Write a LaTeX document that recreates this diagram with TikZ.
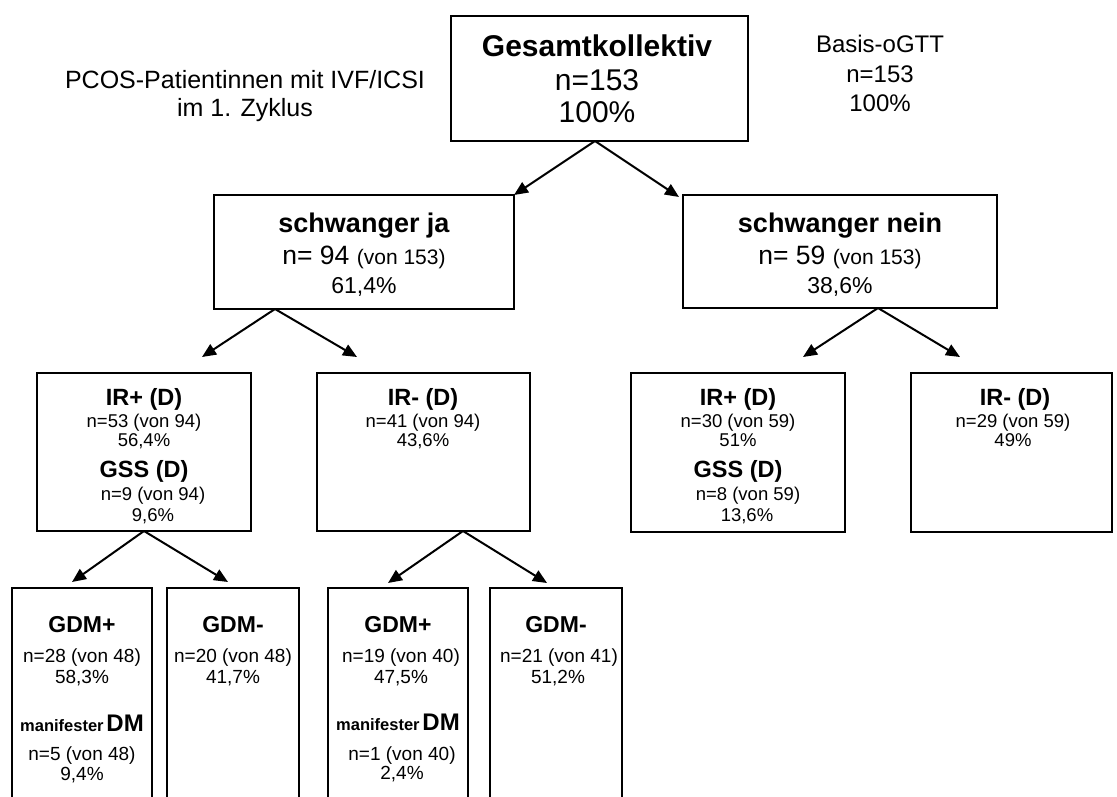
\documentclass[tikz,border=0pt]{standalone}
\usepackage{fontspec}
\setmainfont{Liberation Sans}
\usetikzlibrary{arrows.meta}
\tikzset{
  kasten/.style={draw, line width=2.2pt, anchor=north west,
    inner sep=0pt, outer sep=0pt},
  zeile/.style={anchor=base, inner sep=0pt, outer sep=0pt},
  pfeil/.style={line width=2pt, -{Triangle[length=14pt,width=12pt]}}
}
\newcommand{\gr}[1]{\fontsize{#1}{#1}\selectfont}

\begin{document}
\begin{tikzpicture}[x=1pt,y=-1pt]
\useasboundingbox (0,0) rectangle (1117,797);
\clip (0,0) rectangle (1117,797);

%%%%%%%%% Kopfzeile
\node[zeile, font=\gr{25}] (pcos1) at (245,89) {PCOS-Patientinnen mit IVF/ICSI};
\node[zeile, font=\gr{25}] (pcos2) at (245,117) {im 1. Zyklus};

\node[kasten, minimum width=297pt, minimum height=125pt] (ges) at (451,16) {};
\node[zeile, font=\gr{30}\bfseries] (ges1) at (597,57) {Gesamtkollektiv};
\node[zeile, font=\gr{30}] (ges2) at (597,91) {n=153};
\node[zeile, font=\gr{30}] (ges3) at (597,123) {100\%};

\node[zeile, font=\gr{24}] (ogtt1) at (880,53) {Basis-oGTT};
\node[zeile, font=\gr{24}] (ogtt2) at (880,83) {n=153};
\node[zeile, font=\gr{24}] (ogtt3) at (880,112) {100\%};

%%%%%%%%% schwanger ja / nein
\node[kasten, minimum width=300pt, minimum height=114pt] (ja) at (214,195) {};
\node[zeile, font=\gr{27}\bfseries] (ja1) at (364,232) {schwanger ja};
\node[zeile, font=\gr{26.5}] (ja2) at (364,264) {n= 94 {\gr{21}(von 153)}};
\node[zeile, font=\gr{23}] (ja3) at (364,293) {61,4\%};

\node[kasten, minimum width=314pt, minimum height=113pt] (nein) at (683,195) {};
\node[zeile, font=\gr{27}\bfseries] (nein1) at (840,232) {schwanger nein};
\node[zeile, font=\gr{26.5}] (nein2) at (840,264) {n= 59 {\gr{21}(von 153)}};
\node[zeile, font=\gr{23}] (nein3) at (840,293) {38,6\%};

%%%%%%%%% IR Ebene
\node[kasten, minimum width=214pt, minimum height=158pt] (irpa) at (37,373) {};
\node[zeile, font=\gr{23.5}\bfseries] (irpa1) at (144,405) {IR+ (D)};
\node[zeile, font=\gr{18.5}] (irpa2) at (144,427) {n=53 (von 94)};
\node[zeile, font=\gr{18.5}] (irpa3) at (144,446) {56,4\%};
\node[zeile, font=\gr{23.5}\bfseries] (gssa1) at (144,477) {GSS (D)};
\node[zeile, font=\gr{18.5}] (gssa2) at (153,500) {n=9 (von 94)};
\node[zeile, font=\gr{18.5}] (gssa3) at (153,521) {9,6\%};

\node[kasten, minimum width=213pt, minimum height=158pt] (irma) at (317,373) {};
\node[zeile, font=\gr{23.5}\bfseries] (irma1) at (423,405) {IR- (D)};
\node[zeile, font=\gr{18.5}] (irma2) at (423,427) {n=41 (von 94)};
\node[zeile, font=\gr{18.5}] (irma3) at (423,446) {43,6\%};

\node[kasten, minimum width=214pt, minimum height=159pt] (irpb) at (631,373) {};
\node[zeile, font=\gr{23.5}\bfseries] (irpb1) at (738,405) {IR+ (D)};
\node[zeile, font=\gr{18.5}] (irpb2) at (738,427) {n=30 (von 59)};
\node[zeile, font=\gr{18.5}] (irpb3) at (738,446) {51\%};
\node[zeile, font=\gr{23.5}\bfseries] (gssb1) at (738,477) {GSS (D)};
\node[zeile, font=\gr{18.5}] (gssb2) at (748,500) {n=8 (von 59)};
\node[zeile, font=\gr{18.5}] (gssb3) at (747,521) {13,6\%};

\node[kasten, minimum width=201pt, minimum height=159pt] (irmb) at (911,373) {};
\node[zeile, font=\gr{23.5}\bfseries] (irmb1) at (1015,405) {IR- (D)};
\node[zeile, font=\gr{18.5}] (irmb2) at (1013,427) {n=29 (von 59)};
\node[zeile, font=\gr{18.5}] (irmb3) at (1013,446) {49\%};

%%%%%%%%% GDM Ebene (unten abgeschnitten)
\node[kasten, minimum width=140pt, minimum height=242pt] (gdmpa) at (12,588) {};
\node[zeile, font=\gr{23}\bfseries] (gdmpa1) at (82,632) {GDM+};
\node[zeile, font=\gr{19}] (gdmpa2) at (82,662) {n=28 (von 48)};
\node[zeile, font=\gr{19}] (gdmpa3) at (82,683) {58,3\%};
\node[zeile, font=\bfseries] (dma1) at (82,731) {{\gr{16.5}manifester} {\gr{24}DM}};
\node[zeile, font=\gr{19}] (dma2) at (82,760) {n=5 (von 48)};
\node[zeile, font=\gr{19}] (dma3) at (82,780) {9,4\%};

\node[kasten, minimum width=132pt, minimum height=242pt] (gdmma) at (167,588) {};
\node[zeile, font=\gr{23}\bfseries] (gdmma1) at (233,632) {GDM-};
\node[zeile, font=\gr{19}] (gdmma2) at (233,662) {n=20 (von 48)};
\node[zeile, font=\gr{19}] (gdmma3) at (233,683) {41,7\%};

\node[kasten, minimum width=140pt, minimum height=242pt] (gdmpb) at (328,588) {};
\node[zeile, font=\gr{23}\bfseries] (gdmpb1) at (398,632) {GDM+};
\node[zeile, font=\gr{19}] (gdmpb2) at (401,662) {n=19 (von 40)};
\node[zeile, font=\gr{19}] (gdmpb3) at (401,683) {47,5\%};
\node[zeile, font=\bfseries] (dmb1) at (398,730) {{\gr{16.5}manifester} {\gr{24}DM}};
\node[zeile, font=\gr{19}] (dmb2) at (402,760) {n=1 (von 40)};
\node[zeile, font=\gr{19}] (dmb3) at (402,779) {2,4\%};

\node[kasten, minimum width=132pt, minimum height=242pt] (gdmmb) at (490,588) {};
\node[zeile, font=\gr{23}\bfseries] (gdmmb1) at (556,632) {GDM-};
\node[zeile, font=\gr{19}] (gdmmb2) at (559,662) {n=21 (von 41)};
\node[zeile, font=\gr{19}] (gdmmb3) at (558,683) {51,2\%};

%%%%%%%%% Pfeile
\coordinate (ges-ab) at (595,141);
\coordinate (ja-ab) at (275,309);
\coordinate (nein-ab) at (878,308);
\coordinate (irma-ab) at (463,531);
\coordinate (zu-irpa) at (202,357);
\coordinate (zu-irma) at (357,357);
\coordinate (zu-irpb) at (803,357);
\coordinate (zu-irmb) at (960,357);
\coordinate (zu-gdmpa) at (72,582);
\coordinate (zu-gdmma) at (228,582);
\coordinate (zu-gdmpb) at (388,583);
\coordinate (zu-gdmmb) at (547,583);

\draw[pfeil] (ges-ab) -- (ja.north east);
\draw[pfeil] (ges-ab) -- ([xshift=-4pt,yshift=-2pt]nein.north west);
\foreach \von/\nach in {ja-ab/zu-irpa, ja-ab/zu-irma, nein-ab/zu-irpb,
    nein-ab/zu-irmb, irpa.south/zu-gdmpa, irpa.south/zu-gdmma,
    irma-ab/zu-gdmpb, irma-ab/zu-gdmmb}
  \draw[pfeil] (\von) -- (\nach);

\end{tikzpicture}
\end{document}
